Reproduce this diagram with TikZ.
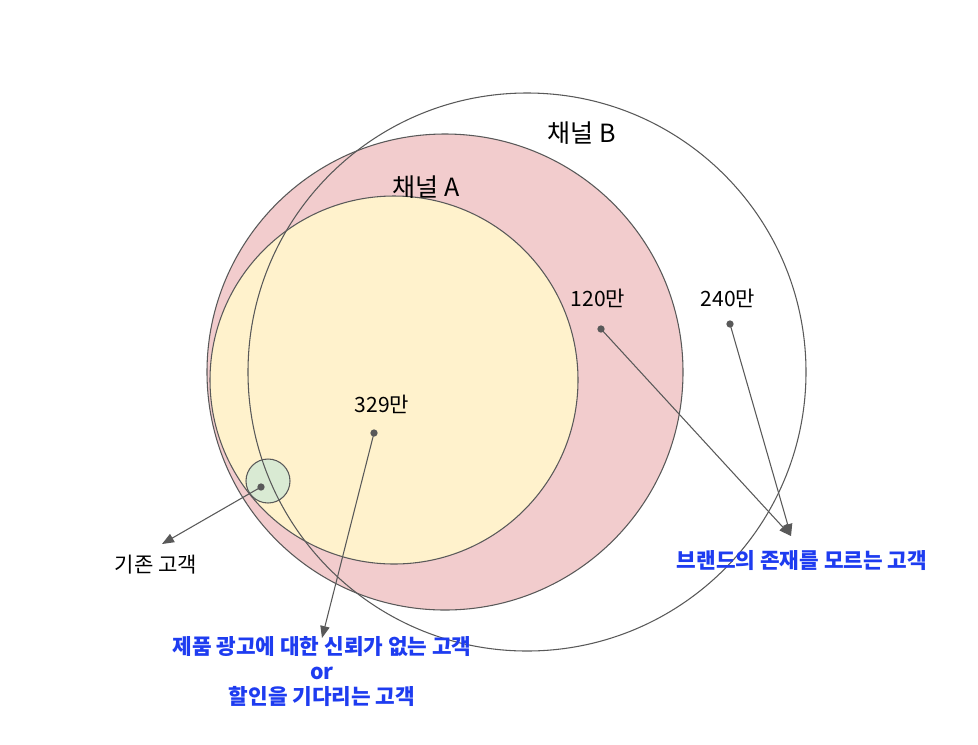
\documentclass[tikz,border=0pt]{standalone}
\usepackage{fontspec}
\setmainfont{Noto Sans CJK KR}
\usetikzlibrary{arrows.meta}
\definecolor{linea}{HTML}{595959}
\definecolor{rosa}{HTML}{F2CCCD}
\definecolor{crema}{HTML}{FFF2CC}
\definecolor{verde}{HTML}{D9EAD3}
\definecolor{azul}{HTML}{1E3CF0}
\tikzset{
  circulo/.style={draw=linea,line width=0.8pt},
  punto/.style={circle,fill=linea,inner sep=0pt,minimum size=5.5pt},
  flecha/.style={draw=linea,line width=0.8pt,-{Triangle[length=9pt,width=7pt]}},
  cifra/.style={font=\fontsize{15.8}{18}\selectfont,text=black},
  canal/.style={font=\fontsize{18.8}{22}\selectfont,text=black},
  nota/.style={font=\fontsize{16}{18.75}\selectfont\bfseries,text=azul,align=center},
}
\begin{document}
\begin{tikzpicture}[x=0.75pt,y=-0.75pt]
  \useasboundingbox (0,0) rectangle (978,744);
  % conjuntos
  \fill[rosa] (445,372) circle[radius=238];
  \draw[circulo] (445,372) circle[radius=238];
  \draw[circulo,fill=crema] (394,380) circle[radius=184];
  \draw[circulo,fill=verde] (268,481) circle[radius=22];
  \draw[circulo] (527,372) circle[radius=279];
  % etiquetas
  \node[canal] (canalB) at (582,133) {채널 B};
  \node[canal] (canalA) at (426,187) {채널 A};
  \node[cifra] (c120) at (598,298) {120만};
  \node[cifra] (c240) at (728,298) {240만};
  \node[cifra] (c329) at (382,404) {329만};
  % puntos
  \node[punto] (p120) at (601,329) {};
  \node[punto] (p240) at (730,324) {};
  \node[punto] (p329) at (374,433) {};
  \node[punto] (pexist) at (261,487) {};
  \coordinate (fmarca) at (791,536);
  \coordinate (fprod) at (322,638);
  \coordinate (fexist) at (162,544);
  % flechas
  \draw[flecha] (p120.center) -- (fmarca);
  \draw[flecha] (p240.center) -- (fmarca);
  \draw[flecha] (p329.center) -- (fprod);
  \draw[flecha] (pexist.center) -- (fexist);
  % textos
  \node[cifra] (existente) at (156,565) {기존 고객};
  \node[nota] (marca) at (802,561) {브랜드의 존재를 모르는 고객};
  \node[nota] (producto) at (322,672) {제품 광고에 대한 신뢰가 없는 고객\\or\\할인을 기다리는 고객};
\end{tikzpicture}
\end{document}
